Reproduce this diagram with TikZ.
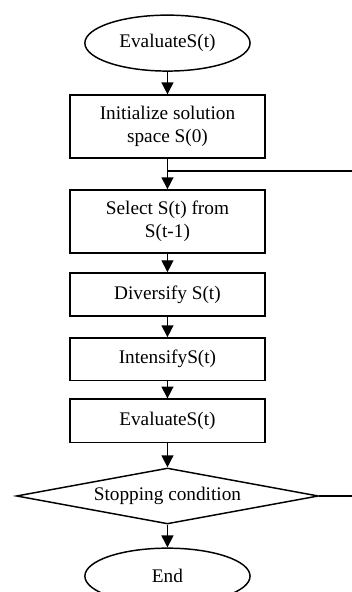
\documentclass[tikz,border=0pt]{standalone}
\usepackage{fontspec}
\setmainfont{Liberation Serif}
\usepackage{tikz}
\usetikzlibrary{arrows.meta,shapes.geometric}

\tikzset{
 stepbox/.style={draw, line width=1.1pt, minimum width=5.16cm, align=center, inner sep=2pt},
 term/.style={draw, ellipse, line width=1.1pt, minimum width=4.37cm, minimum height=1.48cm, inner sep=0pt},
 test/.style={draw, diamond, line width=1.1pt, minimum width=7.99cm, minimum height=1.48cm, aspect=5.4, inner sep=0pt},
 flow/.style={-{Triangle[length=9pt, width=9pt]}, line width=1.1pt}
}

\begin{document}
\begin{tikzpicture}[font=\fontsize{14.5}{17}\selectfont]
 \useasboundingbox (0, 0) rectangle (9.31, -15.66);

 \node [term] (start) at (4.43, -1.14) {EvaluateS(t)};
 \node [stepbox, minimum height=1.67cm] (init) at (4.43, -3.35) {Initialize solution\\space S(0)};
 \node [stepbox, minimum height=1.67cm] (select) at (4.43, -5.86) {Select S(t) from\\S(t-1)};
 \node [stepbox, minimum height=1.14cm] (divers) at (4.43, -7.79) {Diversify S(t)};
 \node [stepbox, minimum height=1.12cm] (intens) at (4.43, -9.50) {IntensifyS(t)};
 \node [stepbox, minimum height=1.14cm] (eval) at (4.43, -11.13) {EvaluateS(t)};
 \node [test] (stop) at (4.43, -13.12) {Stopping condition};
 \node [term] (end) at (4.43, -15.24) {End};

 \coordinate (join) at (4.43, -4.52);
 \coordinate (loopout) at (9.31, -4.52);
 \coordinate (stopout) at (9.31, -13.12);

 \draw [flow] (start) -- (init);
 \draw [flow] (init) -- (select);
 \draw [line width=1.1pt] (join) -- (loopout);
 \draw [flow] (select) -- (divers);
 \draw [flow] (divers) -- (intens);
 \draw [flow] (intens) -- (eval);
 \draw [flow] (eval) -- (stop);
 \draw [flow] (stop) -- (end);
 \draw [line width=1.1pt] (stop.east) -- (stopout);
\end{tikzpicture}
\end{document}
